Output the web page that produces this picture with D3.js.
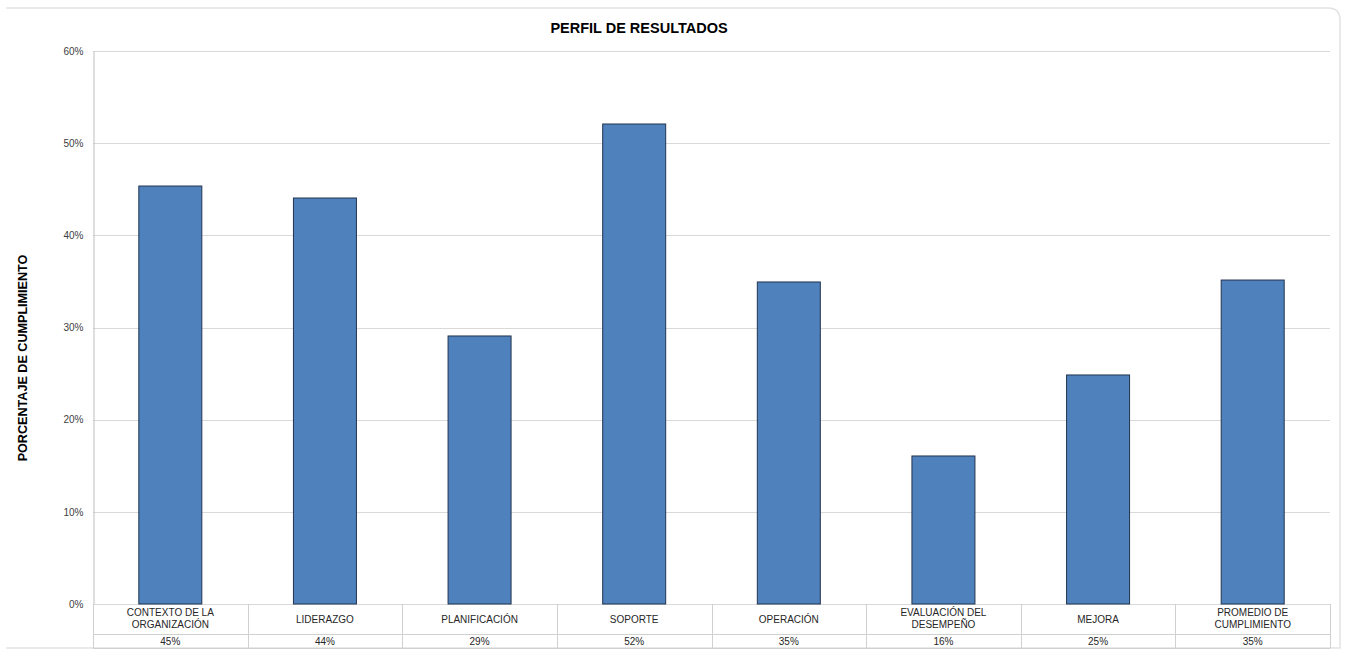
<!DOCTYPE html>
<html>
<head>
<meta charset="utf-8">
<script src="https://cdn.jsdelivr.net/npm/d3@7"></script>
<style>
  body { margin: 0; background: #fff; font-family: "Liberation Sans", Arial, sans-serif; }
</style>
</head>
<body>
<div id="canva"></div>
<script>
const categories = [
  ["CONTEXTO DE LA", "ORGANIZACIÓN"],
  ["LIDERAZGO"],
  ["PLANIFICACIÓN"],
  ["SOPORTE"],
  ["OPERACIÓN"],
  ["EVALUACIÓN DEL", "DESEMPEÑO"],
  ["MEJORA"],
  ["PROMEDIO DE", "CUMPLIMIENTO"]
];
const values = [0.4535, 0.4405, 0.2908, 0.5208, 0.3494, 0.1606, 0.2485, 0.3515];
const tableLabels = ["45%", "44%", "29%", "52%", "35%", "16%", "25%", "35%"];
const yTicks = [0, 0.1, 0.2, 0.3, 0.4, 0.5, 0.6];

const width = 1348, height = 652;
const plot = { left: 93, right: 1330, top: 51, bottom: 604 };

const svg = d3.select('#canva').append('svg')
    .attr('width', width)
    .attr('height', height)
    .style('display', 'block');

// card frame
svg.append('path')
    .attr('d', `M6,8 H1328 Q1340,8 1340,20 V648 H6`)
    .attr('fill', 'none')
    .attr('stroke', '#e2e2e2')
    .attr('stroke-width', 1.5);

const x = d3.scaleBand()
    .domain(d3.range(categories.length))
    .range([plot.left, plot.right])
    .paddingInner(0)
    .paddingOuter(0);

const y = d3.scaleLinear()
    .domain([0, 0.6])
    .range([plot.bottom, plot.top]);

// gridlines
svg.append('g')
    .selectAll('line')
    .data(yTicks)
    .enter()
    .append('line')
    .attr('x1', plot.left)
    .attr('x2', plot.right)
    .attr('y1', d => Math.round(y(d)) + 0.5)
    .attr('y2', d => Math.round(y(d)) + 0.5)
    .attr('stroke', '#d9d9d9');

// y axis
const yAxis = svg.append('g')
    .attr('transform', `translate(${plot.left + 0.5},0)`)
    .call(d3.axisLeft(y).tickValues(yTicks).tickFormat(d3.format('.0%')).tickSize(0).tickPadding(10));
yAxis.select('.domain').attr('stroke', '#bfbfbf');
yAxis.selectAll('text')
    .attr('font-family', '"Liberation Sans", Arial, sans-serif')
    .attr('font-size', 10)
    .attr('fill', '#404040');

// bars
const bw = 63;
svg.append('g')
    .selectAll('rect')
    .data(values)
    .enter()
    .append('rect')
    .attr('x', (d, i) => x(i) + x.bandwidth() / 2 - bw / 2)
    .attr('y', d => y(d))
    .attr('width', bw)
    .attr('height', d => y(0) - y(d))
    .attr('fill', '#4f81bd')
    .attr('stroke', '#22344f')
    .attr('stroke-width', 1);

// data table
const row1 = 634, row2 = 648;
const table = svg.append('g');
table.selectAll('line.v')
    .data(d3.range(categories.length + 1))
    .enter()
    .append('line')
    .attr('x1', i => Math.round(i < categories.length ? x(i) : plot.right) + 0.5)
    .attr('x2', i => Math.round(i < categories.length ? x(i) : plot.right) + 0.5)
    .attr('y1', plot.bottom)
    .attr('y2', row2)
    .attr('stroke', '#d0d0d0');
[row1, row2].forEach(ry => {
  table.append('line')
      .attr('x1', plot.left).attr('x2', plot.right)
      .attr('y1', ry + 0.5).attr('y2', ry + 0.5)
      .attr('stroke', '#d0d0d0');
});

const catText = table.selectAll('text.cat')
    .data(categories)
    .enter()
    .append('text')
    .attr('text-anchor', 'middle')
    .attr('font-size', 10)
    .attr('fill', '#262626');
catText.each(function (d, i) {
  const t = d3.select(this);
  const cx = x(i) + x.bandwidth() / 2;
  const y0 = d.length === 1 ? 623 : 616;
  d.forEach((line, k) => {
    t.append('tspan').attr('x', cx).attr('y', y0 + k * 12).text(line);
  });
});

table.selectAll('text.val')
    .data(tableLabels)
    .enter()
    .append('text')
    .attr('x', (d, i) => x(i) + x.bandwidth() / 2)
    .attr('y', 645)
    .attr('text-anchor', 'middle')
    .attr('font-size', 10)
    .attr('fill', '#262626')
    .text(d => d);

// titles
svg.append('text')
    .attr('x', 639)
    .attr('y', 33)
    .attr('text-anchor', 'middle')
    .attr('font-size', 14.5)
    .attr('font-weight', 'bold')
    .attr('fill', '#000')
    .text('PERFIL DE RESULTADOS');

svg.append('text')
    .attr('transform', 'translate(27,358) rotate(-90)')
    .attr('text-anchor', 'middle')
    .attr('font-size', 12.6)
    .attr('font-weight', 'bold')
    .attr('fill', '#000')
    .text('PORCENTAJE DE CUMPLIMIENTO');
</script>
</body>
</html>
